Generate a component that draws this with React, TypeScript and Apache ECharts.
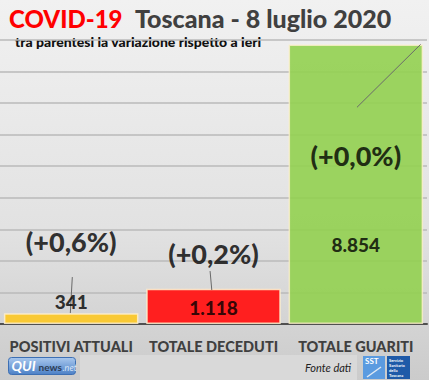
import React, { useEffect, useRef } from "react";
import * as echarts from "echarts";

const categories = ["POSITIVI ATTUALI", "TOTALE DECEDUTI", "TOTALE GUARITI"];
const values = [341, 1118, 8854];
const changes = ["(+0,6%)", "(+0,2%)", "(+0,0%)"];
const yTicks = [0, 1000, 2000, 3000, 4000, 5000, 6000, 7000, 8000, 9000];

const barColors = ["#f9c934", "#ff1f1f", "#92d050"];
// label anchors (data units) and leader lines [cat, from, to, dxFrom, dxTo (band fraction)]
const valueLabelAt = [700, 510, 2530];
const changeLabelAt = [2630, 2250, 5350];
const leaders = [
  [0, 348, 1487, -0.006, 0.008],
  [1, 1076, 1677, -0.012, -0.024],
  [2, 6867, 8861, 0.008, 0.455],
];

const fmt = (v: number) => String(v).replace(/\B(?=(\d{3})+(?!\d))/g, ".");
const FONT = "Lato, 'Open Sans', sans-serif";

export default function App() {
  const ref = useRef<HTMLDivElement>(null);
  useEffect(() => {
    document.body.style.margin = "0";
    const chart = echarts.init(ref.current!, null, { renderer: "svg" });
    chart.setOption({
      animation: false,
      backgroundColor: {
        type: "linear", x: 0, y: 0, x2: 0, y2: 1,
        colorStops: [
          { offset: 0, color: "#f1f1f1" },
          { offset: 0.6, color: "#e2e2e2" },
          { offset: 1, color: "#cbcbcb" },
        ],
      },
      grid: { left: -2, right: 2, top: 40, bottom: 56, containLabel: false },
      xAxis: {
        type: "category",
        data: categories,
        axisTick: { show: false },
        axisLine: { lineStyle: { color: "#505050", width: 2 } },
        axisLabel: {
          margin: 15,
          fontFamily: FONT,
          fontWeight: 900,
          fontSize: 14.5,
          color: "#404040",
          interval: 0,
        },
      },
      yAxis: {
        type: "value",
        min: yTicks[0],
        max: yTicks[yTicks.length - 1],
        interval: 1000,
        axisLabel: { show: false },
        axisLine: { show: false },
        axisTick: { show: false },
        splitLine: { lineStyle: { color: "#bababa", width: 1.5 } },
      },
      graphic: [
        {
          type: "rect", left: 80, top: 355, z: -1,
          shape: { width: 277, height: 25 },
          style: { fill: "#d9d9d9" },
        },
        {
          type: "text", left: 9, top: 6,
          style: { text: "COVID-19", fill: "#ff0000", font: `900 24px ${FONT}` },
        },
        {
          type: "text", left: 135, top: 5,
          style: { text: "Toscana - 8 luglio 2020", fill: "#404040", font: `900 25px ${FONT}` },
        },
        {
          type: "text", left: 15, top: 34,
          style: { text: "tra parentesi la variazione rispetto a ieri", fill: "#111", font: `900 14px ${FONT}` },
        },
        {
          type: "text", left: 305, top: 362,
          style: { text: "Fonte dati", fill: "#222", font: `italic 11px ${FONT}` },
        },
        {
          type: "group", left: 8, top: 357,
          children: [
            {
              type: "rect", shape: { x: 0, y: 0, width: 67, height: 17, r: 3 },
              style: {
                fill: {
                  type: "linear", x: 0, y: 0, x2: 0, y2: 1,
                  colorStops: [{ offset: 0, color: "#a9c8ee" }, { offset: 1, color: "#4c80c6" }],
                },
                stroke: "#3d6fb3", lineWidth: 1,
              },
            },
            { type: "text", x: 3, y: 1, style: { text: "QUI", fill: "#fff", font: `bold italic 14px ${FONT}` } },
            { type: "text", x: 30, y: 4, style: { text: "news", fill: "#2e3d55", font: `bold 10px ${FONT}` } },
            { type: "text", x: 54, y: 5, style: { text: ".net", fill: "#d6e4f6", font: `italic 9px ${FONT}` } },
          ],
        },
        {
          type: "group", left: 363, top: 356,
          children: [
            { type: "rect", shape: { x: 0, y: 0, width: 22, height: 23 }, style: { fill: "#5b9be0" } },
            { type: "text", x: 2, y: 1, style: { text: "SST", fill: "#fff", font: `bold 8px ${FONT}` } },
            { type: "line", shape: { x1: 4, y1: 21, x2: 18, y2: 11 }, style: { stroke: "#dfe9f5", lineWidth: 1.5 } },
            { type: "rect", shape: { x: 24, y: 0, width: 23, height: 23 }, style: { fill: "#1e5aa8" } },
            {
              type: "text", x: 26, y: 2,
              style: { text: "Servizio\nSanitario\ndella\nToscana", fill: "#fff", font: `bold 4px ${FONT}`, lineHeight: 5 },
            },
          ],
        },
      ],
      series: [
        {
          type: "bar",
          barCategoryGap: "5.5%",
          data: values.map((v, i) => ({
            value: v,
            itemStyle: {
              color: barColors[i],
              opacity: i === 2 ? 0.9 : 1,
              borderColor: "rgba(255,240,205,0.85)",
              borderWidth: 1.5,
            },
          })),
          z: 2,
        },
        {
          type: "custom",
          z: 4,
          data: leaders,
          renderItem: (params: any, api: any) => {
            const cat = api.value(0);
            const band = api.size([1, 0])[0];
            const p1 = api.coord([cat, api.value(1)]);
            const p2 = api.coord([cat, api.value(2)]);
            return {
              type: "line",
              shape: {
                x1: p1[0] + api.value(3) * band, y1: p1[1],
                x2: p2[0] + api.value(4) * band, y2: p2[1],
              },
              style: { stroke: "#6a6a6a", lineWidth: 1 },
            };
          },
        },
        {
          type: "scatter",
          symbolSize: 0,
          z: 5,
          data: valueLabelAt.map((y, i) => [i, y]),
          label: {
            show: true,
            position: "inside",
            formatter: (p: any) => fmt(values[p.dataIndex]),
            fontFamily: FONT,
            fontWeight: 900,
            fontSize: 19,
            color: "#000",
          },
        },
        {
          type: "scatter",
          symbolSize: 0,
          z: 5,
          data: changeLabelAt.map((y, i) => [i, y]),
          label: {
            show: true,
            position: "inside",
            formatter: (p: any) => changes[p.dataIndex],
            fontFamily: FONT,
            fontWeight: 900,
            fontSize: 27,
            color: "#000",
          },
        },
      ],
    });
    return () => chart.dispose();
  }, []);
  return (
    <div
      ref={ref}
      style={{ position: "absolute", left: 0, top: 0, width: 429, height: 380 }}
    />
  );
}
